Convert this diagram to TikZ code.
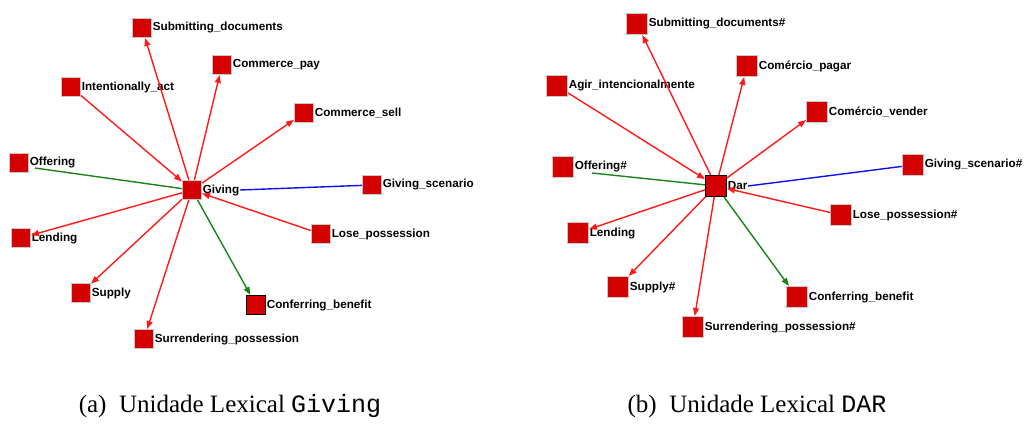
\documentclass[tikz,border=0pt]{standalone}
\usepackage{fontspec}
\setmainfont{Liberation Serif}
\setmonofont{Liberation Mono}
\newfontfamily\lblfont{Liberation Sans}
\usetikzlibrary{arrows.meta}
\definecolor{nodered}{RGB}{212,0,0}
\definecolor{edgered}{RGB}{255,25,25}
\definecolor{edgegreen}{RGB}{25,130,25}
\definecolor{edgeblue}{RGB}{15,15,240}
\tikzset{
  sq/.style={draw=black!22, fill=nodered, minimum size=19pt, inner sep=0pt, line width=1pt},
  sqb/.style={sq, minimum size=21pt},
  sqk/.style={draw=black},
  lbl/.style={anchor=west, inner sep=0.6pt, font=\lblfont\bfseries\fontsize{11.7}{12}\selectfont},
  tip/.style={-{Triangle[length=8pt,width=6pt]}},
  redge/.style={draw=edgered, line width=1.4pt, tip},
  gedge/.style={draw=edgegreen, line width=1.4pt},
  bedge/.style={draw=edgeblue, line width=1.4pt},
  captext/.style={font=\fontsize{25}{27}\selectfont, anchor=center}
}
\begin{document}
\begin{tikzpicture}[x=1pt,y=-1pt]
\useasboundingbox (0,0) rectangle (1033,425);
% ---------- left panel ----------
\node[sq] (g) at (192,190) {};
\node[sq] (sd) at (142,28) {};
\node[sq] (ia) at (71,87) {};
\node[sq] (cp) at (222,65) {};
\node[sq] (cs) at (304,113) {};
\node[sq] (gs) at (372,185) {};
\node[sq] (of) at (19,163) {};
\node[sq] (le) at (21,238) {};
\node[sq] (su) at (81,293) {};
\node[sq] (sp) at (144,339) {};
\node[sq] (lp) at (321,234) {};
\node[sq,sqk] (cb) at (256,305) {};
\node[lbl] (gl) at (g.east) {Giving};
\node[lbl] (sdl) at (sd.east) {Submitting\_documents};
\node[lbl] (ial) at (ia.east) {Intentionally\_act};
\node[lbl] (cpl) at (cp.east) {Commerce\_pay};
\node[lbl] (csl) at (cs.east) {Commerce\_sell};
\node[lbl] (gsl) at (gs.east) {Giving\_scenario};
\node[lbl] (ofl) at (of.east) {Offering};
\node[lbl] (lel) at (le.east) {Lending};
\node[lbl] (sul) at (su.east) {Supply};
\node[lbl] (spl) at (sp.east) {Surrendering\_possession};
\node[lbl] (lpl) at (lp.east) {Lose\_possession};
\node[lbl] (cbl) at (cb.east) {Conferring\_benefit};
\coordinate (ofend) at (35,168);
\draw[redge] (g) -- (sd);
\draw[redge] (ia) -- (g);
\draw[redge] (g) -- (cp);
\draw[redge] (g) -- (cs);
\draw[bedge] (gl.east) -- (gs);
\draw[gedge] (g) -- (ofend);
\draw[redge] (lp) -- (g);
\draw[redge] (g) -- (le);
\draw[redge] (g) -- (su);
\draw[redge] (g) -- (sp);
\draw[gedge,tip] (g) -- (cb);
% ---------- right panel ----------
\node[sqb,sqk] (d) at (716,186) {};
\node[sqb] (rsd) at (637,24) {};
\node[sqb] (ra) at (557,86) {};
\node[sqb] (rcp) at (747,66) {};
\node[sqb] (rcv) at (817,112) {};
\node[sqb] (rgs) at (913,165) {};
\node[sqb] (rof) at (563,167) {};
\node[sqb] (rle) at (578,233) {};
\node[sqb] (rsu) at (618,287) {};
\node[sqb] (rsp) at (693,327) {};
\node[sqb] (rlp) at (841,215) {};
\node[sqb] (rcb) at (797,297) {};
\node[lbl] (dl) at (d.east) {Dar};
\node[lbl] (rsdl) at (rsd.east) {Submitting\_documents\#};
\node[lbl] (ral) at (ra.east) {Agir\_intencionalmente};
\node[lbl] (rcpl) at (rcp.east) {Comércio\_pagar};
\node[lbl] (rcvl) at (rcv.east) {Comércio\_vender};
\node[lbl] (rgsl) at (rgs.east) {Giving\_scenario\#};
\node[lbl] (rofl) at (rof.east) {Offering\#};
\node[lbl] (rlel) at (rle.east) {Lending};
\node[lbl] (rsul) at (rsu.east) {Supply\#};
\node[lbl] (rspl) at (rsp.east) {Surrendering\_possession\#};
\node[lbl] (rlpl) at (rlp.east) {Lose\_possession\#};
\node[lbl] (rcbl) at (rcb.east) {Conferring\_benefit};
\coordinate (rofend) at (592,173);
\draw[redge] (d) -- (rsd);
\draw[redge] (ra) -- (d);
\draw[redge] (d) -- (rcp);
\draw[redge] (d) -- (rcv);
\draw[bedge] (dl.east) -- (rgs);
\draw[gedge] (d) -- (rofend);
\draw[redge] (rlp) -- (d);
\draw[redge] (d) -- (rle);
\draw[redge] (d) -- (rsu);
\draw[redge] (d) -- (rsp);
\draw[gedge,tip] (d) -- (rcb);
% ---------- captions ----------
\node[captext] (capa) at (230,406) {(a)\hspace{0.5em}Unidade Lexical \texttt{Giving}};
\node[captext] (capb) at (757,406) {(b)\hspace{0.5em}Unidade Lexical \texttt{DAR}};
\end{tikzpicture}
\end{document}
